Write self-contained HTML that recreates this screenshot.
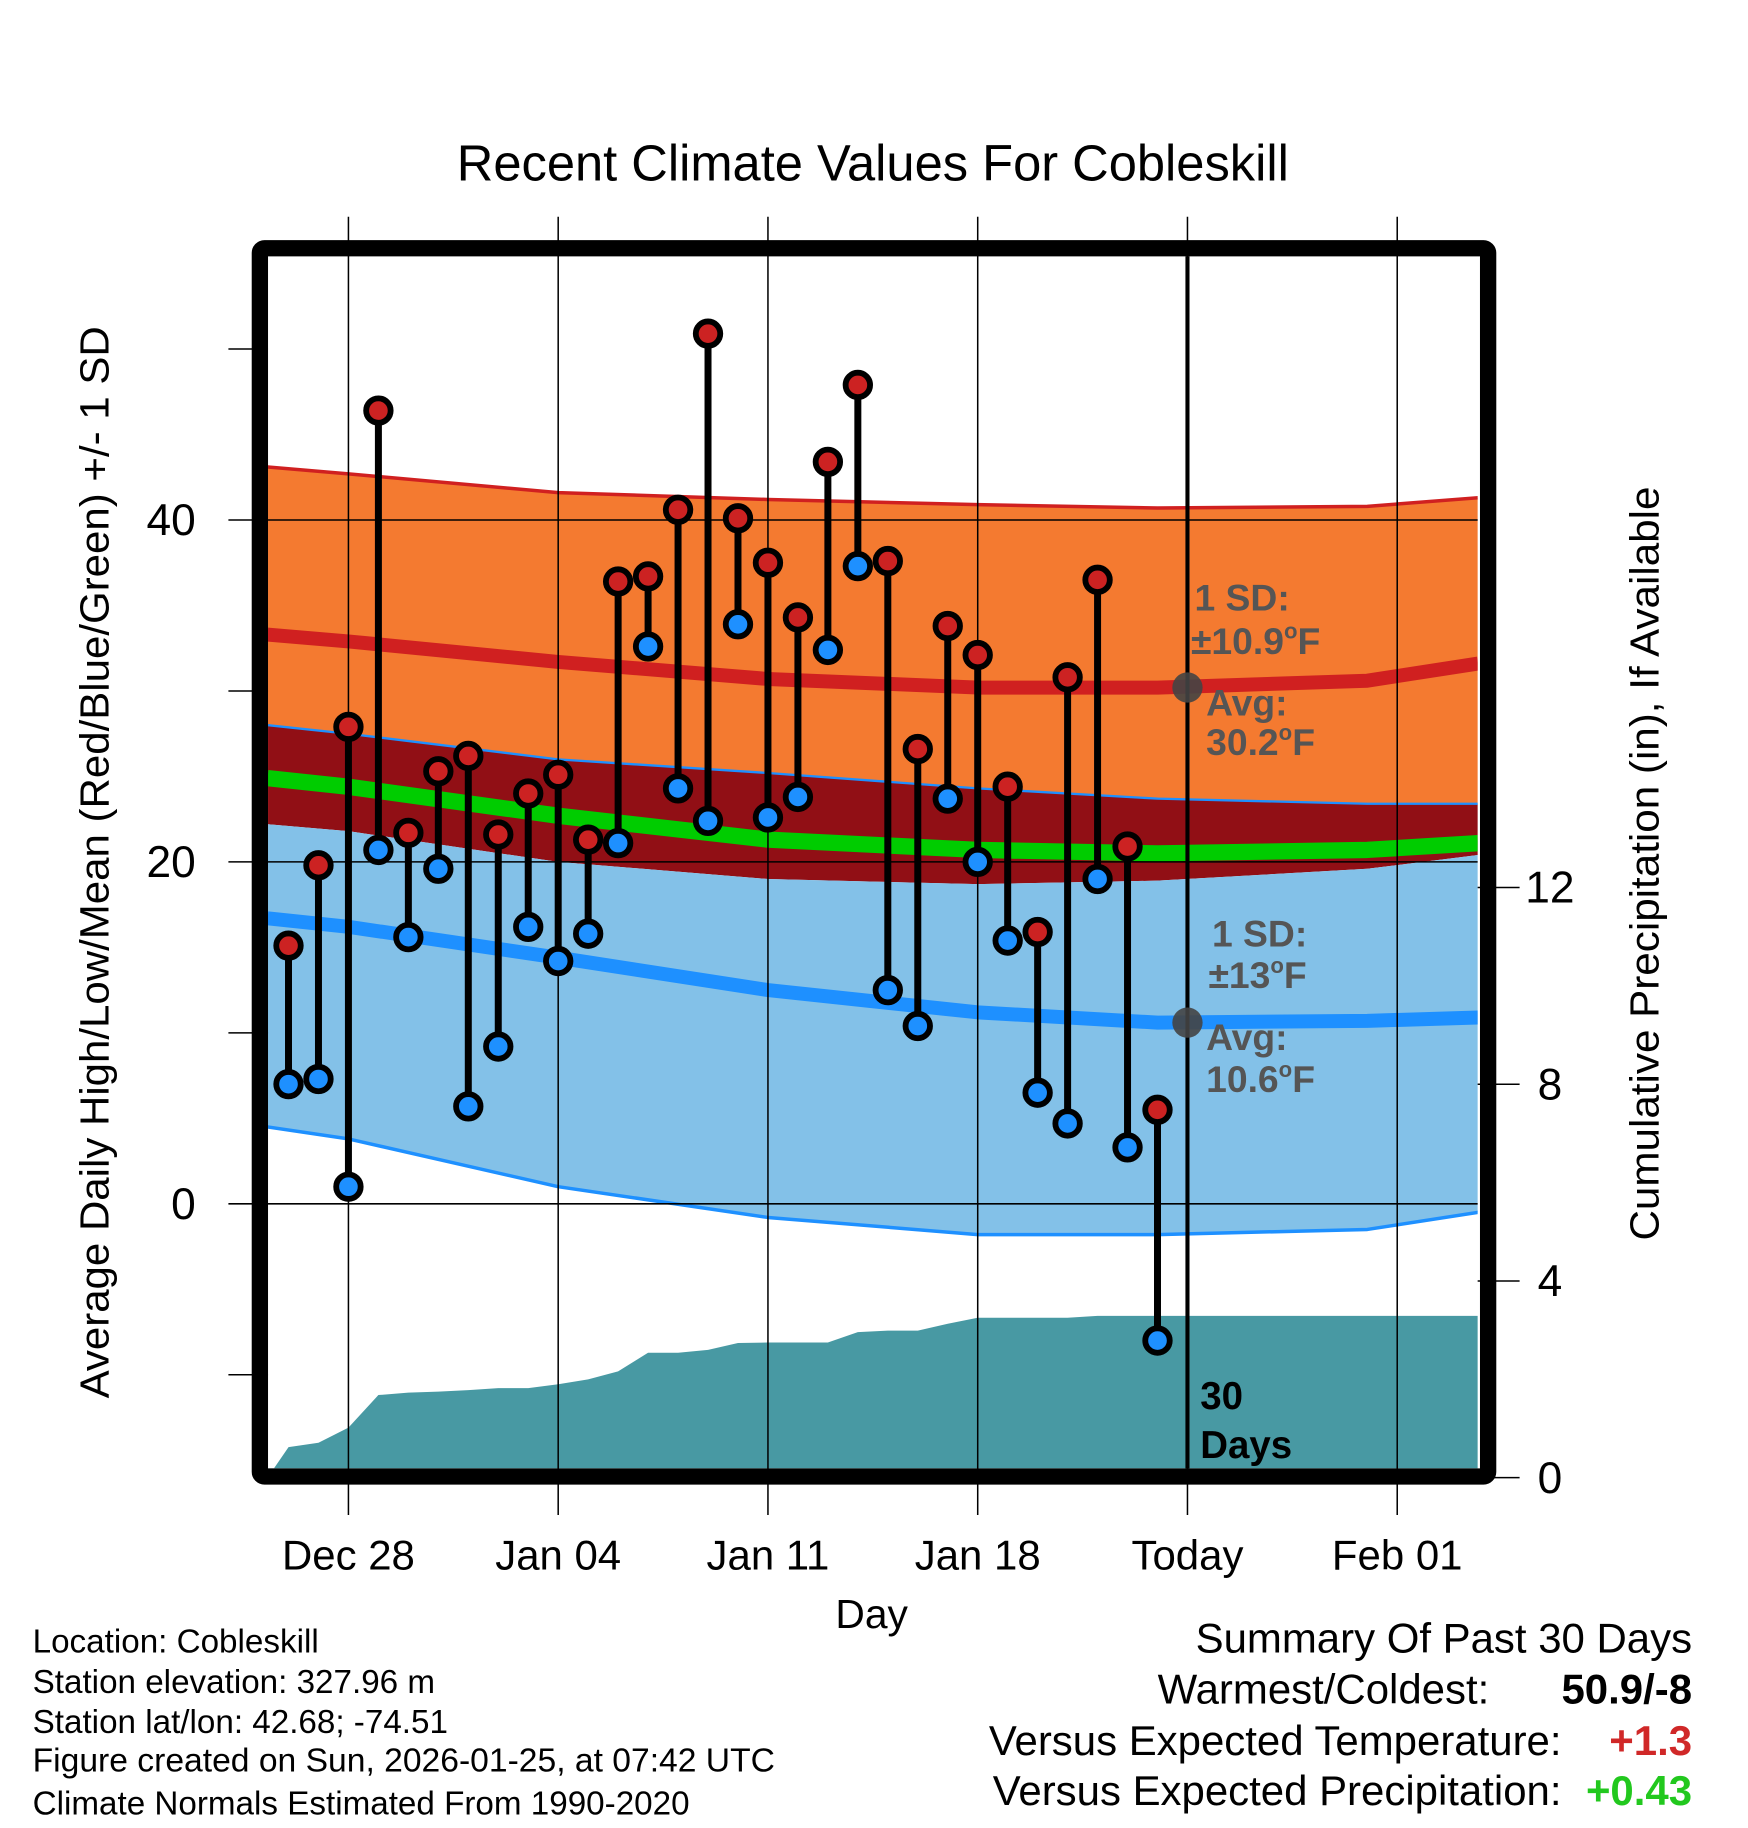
<!DOCTYPE html>
<html><head><meta charset="utf-8"><style>
html,body{margin:0;padding:0;background:#fff;}
svg{display:block;font-family:"Liberation Sans",Arial,sans-serif;}
</style></head><body>
<svg id="chart" width="1748" height="1828" viewBox="0 0 1500 1568.6" xmlns="http://www.w3.org/2000/svg">
<text x="749" y="155" font-size="43.5" text-anchor="middle" textLength="714" lengthAdjust="spacingAndGlyphs">Recent Climate Values For Cobleskill</text>
<g id="plot"></g>
<text transform="translate(93,740) rotate(-90)" font-size="35" text-anchor="middle" textLength="920" lengthAdjust="spacingAndGlyphs">Average Daily High/Low/Mean (Red/Blue/Green) +/- 1 SD</text>
<text transform="translate(1423,741) rotate(-90)" font-size="35" text-anchor="middle" textLength="647" lengthAdjust="spacingAndGlyphs">Cumulative Precipitation (in), If Available</text>
<text x="748" y="1397" font-size="35" text-anchor="middle">Day</text>
<g font-size="28.5">
<text x="28" y="1418">Location: Cobleskill</text>
<text x="28" y="1453">Station elevation: 327.96 m</text>
<text x="28" y="1487">Station lat/lon: 42.68; -74.51</text>
<text x="28" y="1520" textLength="637" lengthAdjust="spacingAndGlyphs">Figure created on Sun, 2026-01-25, at 07:42 UTC</text>
<text x="28" y="1557">Climate Normals Estimated From 1990-2020</text>
</g>
<g font-size="36">
<text x="1452" y="1418" text-anchor="end">Summary Of Past 30 Days</text>
<text x="1278" y="1462" text-anchor="end">Warmest/Coldest:</text>
<text x="1452" y="1462" text-anchor="end" font-weight="bold">50.9/-8</text>
<text x="1340" y="1506" text-anchor="end">Versus Expected Temperature:</text>
<text x="1452" y="1506" text-anchor="end" font-weight="bold" fill="#d02828">+1.3</text>
<text x="1340" y="1549" text-anchor="end">Versus Expected Precipitation:</text>
<text x="1452" y="1549" text-anchor="end" font-weight="bold" fill="#22c81e">+0.43</text>
</g>
</svg>
<script>
const days=[-2,-1,0,1,2,3,4,5,6,7,8,9,10,11,12,13,14,15,16,17,18,19,20,21,22,23,24,25,26,27];
const highs=[15.1,19.8,27.9,46.4,21.7,25.3,26.2,21.6,24.0,25.1,21.3,36.4,36.7,40.6,50.9,40.1,37.5,34.3,43.4,47.9,37.6,26.6,33.8,32.1,24.4,15.9,30.8,36.5,20.9,5.5];
const lows=[7.0,7.3,1.0,20.7,15.6,19.6,5.7,9.2,16.2,14.2,15.8,21.1,32.6,24.3,22.4,33.9,22.6,23.8,32.4,37.3,12.5,10.4,23.7,20.0,15.4,6.5,4.7,19.0,3.3,-8.0];
const normDays=[-2.7,0,7,14,21,27,34,37.7];
const hiUpper=[43.1,42.7,41.6,41.2,40.9,40.7,40.8,41.3];
const avgHigh=[33.3,32.9,31.7,30.7,30.2,30.2,30.6,31.6];
const hiLower=[28.0,27.5,26.0,25.2,24.3,23.7,23.4,23.4];
const avgMean=[24.9,24.4,22.7,21.3,20.7,20.5,20.7,21.1];
const loUpper=[22.2,21.8,20.0,19.0,18.7,18.9,19.6,20.4];
const avgLow=[16.7,16.2,14.4,12.5,11.2,10.6,10.7,10.9];
const loLower=[4.5,3.8,1.0,-0.8,-1.8,-1.8,-1.5,-0.5];
const precipDays=[-2.7,-2,-1,0,1,2,3,4,5,6,7,8,9,10,11,12,13,14,15,16,17,18,19,20,21,22,23,24,25,37.7];
const precip=[0,0.62,0.71,1.02,1.68,1.73,1.75,1.78,1.82,1.82,1.90,2.0,2.16,2.54,2.54,2.6,2.74,2.75,2.75,2.75,2.96,2.99,2.99,3.13,3.25,3.25,3.25,3.25,3.29,3.29];
const xTickDays=[0,7,14,21,28,35];
const xTickLabels=["Dec 28","Jan 04","Jan 11","Jan 18","Today","Feb 01"];
const yTicks=[-10,0,10,20,30,40,50];
const yTickLabels=["","0","","20","","40",""];
const y2Ticks=[0,4,8,12];
const y2TickLabels=["0","4","8","12"];

const L=230,R=1268,T=220,B=1260;
const X=d=>299+(d-0)*25.714;
const Y=t=>1033-t*14.67;
const Y2=p=>1268-p*42.2;
const NS="http://www.w3.org/2000/svg";
const g=document.getElementById('plot');
function mk(tag,at,parent){const e=document.createElementNS(NS,tag);for(const k in at)e.setAttribute(k,at[k]);(parent||g).appendChild(e);return e;}
function pts(xs,ys,f){return xs.map((d,i)=>X(d).toFixed(1)+','+f(ys[i]).toFixed(1));}
const clip=mk('clipPath',{id:'pc'});mk('rect',{x:L,y:T,width:R-L,height:B-T},clip);
const cg=mk('g',{'clip-path':'url(#pc)'});
function bandC(up,lo,fill,name){const p=pts(normDays,up,Y).concat(pts(normDays,lo,Y).reverse());const e=mk('polygon',{points:p.join(' '),fill:fill},cg);
 
 }
function lineC(arr,col,w,name){const e=mk('polyline',{points:pts(normDays,arr,Y).join(' '),fill:'none',stroke:col,'stroke-width':w,'stroke-linejoin':'round'},cg);
 
 }
bandC(hiUpper,hiLower,'#f47a30','high-sd-band');
bandC(hiLower,loUpper,'#910f15','overlap-band');
bandC(loUpper,loLower,'#83c1e8','low-sd-band');
lineC(hiUpper,'#d02020',3,'high-upper-line');
lineC(hiLower,'#1e90ff',2,'high-lower-line');
lineC(loLower,'#1e90ff',3,'low-lower-line');
lineC(avgMean,'#00cc00',14,'mean-line');
lineC(avgHigh,'#d02020',12,'avg-high-line');
lineC(avgLow,'#1e90ff',12,'avg-low-line');
const pp=pts(precipDays,precip,Y2);pp.push(X(37.7)+','+B,X(-2.7)+','+B);
const pa=mk('polygon',{points:pp.join(' '),fill:'#4899a3'},cg);


// grid
[0,20,40].forEach(t=>{const e=mk('line',{x1:L,x2:R,y1:Y(t),y2:Y(t),stroke:'#000','stroke-width':1.3});
 
 });
xTickDays.forEach((d,i)=>{
 const e=mk('line',{x1:X(d),x2:X(d),y1:186,y2:1300,stroke:'#000','stroke-width':1.3});
 
 
 const t=mk('text',{x:X(d),y:1347,'font-size':36,'text-anchor':'middle'});t.textContent=xTickLabels[i];
 
 
});
yTicks.forEach((v,i)=>{
 const e=mk('line',{x1:196,x2:L,y1:Y(v),y2:Y(v),stroke:'#000','stroke-width':1.3});
 
 
 if(yTickLabels[i]){const t=mk('text',{x:168,y:Y(v)+13,'font-size':38,'text-anchor':'end'});t.textContent=yTickLabels[i];
 
 }
});
y2Ticks.forEach((v,i)=>{
 const e=mk('line',{x1:R,x2:1304,y1:Y2(v),y2:Y2(v),stroke:'#000','stroke-width':1.3});
 
 
 const t=mk('text',{x:1330,y:Y2(v)+13,'font-size':38,'text-anchor':'middle'});t.textContent=y2TickLabels[i];
 
 
});
// today line
const tl=mk('line',{x1:X(28),x2:X(28),y1:T,y2:B,stroke:'#000','stroke-width':3.5});


// annotations
const ag=mk('g',{fill:'#555','font-weight':'bold','font-size':32});


function deg(x,y,pre){const t=mk('text',{x:x,y:y},ag);t.appendChild(document.createTextNode(pre));
 const s=mk('tspan',{'font-size':19,dy:-13},t);s.textContent='o';
 const f=mk('tspan',{dy:13},t);f.textContent='F';}
[[1025,524,'1 SD:'],[1035,614,'Avg:'],[1040,812,'1 SD:'],[1035,901,'Avg:']].forEach(a=>{const t=mk('text',{x:a[0],y:a[1]},ag);t.textContent=a[2];});
deg(1022,561,'±10.9');deg(1035,648,'30.2');deg(1037,848,'±13');deg(1035,937,'10.6');
[30.2,10.6].forEach(v=>{const c=mk('circle',{cx:X(28),cy:Y(v),r:13,fill:'#444','fill-opacity':0.9});
 
 });
const dt=mk('text',{x:1030,y:1209,'font-size':33,'font-weight':'bold'});dt.textContent='30';


const dt2=mk('text',{x:1030,y:1251,'font-size':33,'font-weight':'bold'});dt2.textContent='Days';


// sticks
days.forEach((d,i)=>{
 const s=mk('line',{x1:X(d),x2:X(d),y1:Y(highs[i]),y2:Y(lows[i]),stroke:'#000','stroke-width':6});
 
 
 const h=mk('circle',{cx:X(d),cy:Y(highs[i]),r:10.5,fill:'#cc2222',stroke:'#000','stroke-width':5});
 
 
 const l=mk('circle',{cx:X(d),cy:Y(lows[i]),r:10.5,fill:'#1e90ff',stroke:'#000','stroke-width':5});
 
 
});
// frame
const fr=mk('rect',{x:223,y:213,width:1054,height:1054,fill:'none',stroke:'#000','stroke-width':14,rx:4});


</script>
</body></html>
